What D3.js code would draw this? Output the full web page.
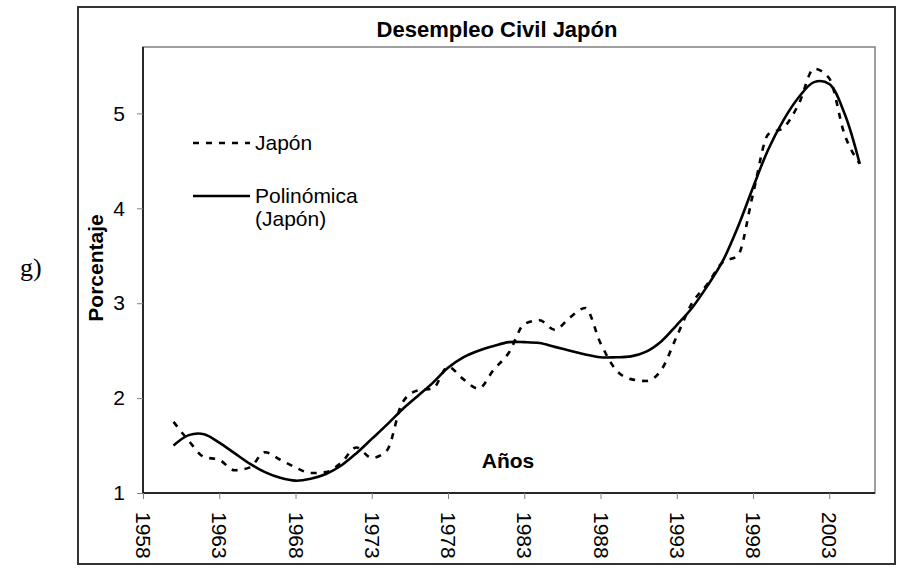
<!DOCTYPE html>
<html>
<head>
<meta charset="utf-8">
<script src="https://cdn.jsdelivr.net/npm/d3@7"></script>
<style>
  body { margin: 0; background: #fff; }
  svg { display: block; font-family: "Liberation Sans", Arial, sans-serif; }
</style>
</head>
<body>
<div id="chart"></div>
<script>
// años 1960 - 2005
var years = [1960,1961,1962,1963,1964,1965,1966,1967,1968,1969,
             1970,1971,1972,1973,1974,1975,1976,1977,1978,1979,
             1980,1981,1982,1983,1984,1985,1986,1987,1988,1989,
             1990,1991,1992,1993,1994,1995,1996,1997,1998,1999,
             2000,2001,2002,2003,2004,2005];

var japon = [1.75,1.55,1.38,1.35,1.24,1.27,1.43,1.35,1.27,1.21,
             1.22,1.32,1.48,1.37,1.45,1.95,2.08,2.10,2.33,2.20,
             2.10,2.30,2.48,2.78,2.82,2.72,2.85,2.95,2.58,2.30,
             2.20,2.18,2.30,2.65,3.00,3.20,3.43,3.50,4.15,4.78,
             4.85,5.10,5.47,5.37,4.78,4.47];

// tendencia polinómica
var polinomica = [1.50,1.61,1.62,1.53,1.42,1.31,1.22,1.16,1.13,1.15,
                  1.20,1.29,1.42,1.57,1.72,1.88,2.02,2.16,2.32,2.43,
                  2.50,2.55,2.59,2.59,2.58,2.54,2.50,2.46,2.43,2.43,
                  2.44,2.49,2.60,2.77,2.95,3.18,3.44,3.80,4.22,4.62,
                  4.93,5.17,5.33,5.31,5.00,4.47];

var xTicks = [1958,1963,1968,1973,1978,1983,1988,1993,1998,2003];
var yTicks = [1,2,3,4,5];

var width = 900, height = 569;
var plot = {left: 143, right: 875, top: 47, bottom: 493};

var svg = d3.select("#chart").append("svg")
    .attr("width", width)
    .attr("height", height);

var x = d3.scaleLinear().domain([1958, 2006]).range([plot.left, plot.right]);
var y = d3.scaleLinear().domain([1, 5.7]).range([plot.bottom, plot.top]);

// marco exterior
svg.append("rect")
    .attr("x", 78).attr("y", 7)
    .attr("width", 817).attr("height", 557)
    .style("fill", "none")
    .style("stroke", "#333")
    .style("stroke-width", 2);

// borde del área de trazado
svg.append("rect")
    .attr("x", plot.left).attr("y", plot.top)
    .attr("width", plot.right - plot.left).attr("height", plot.bottom - plot.top)
    .style("fill", "none")
    .style("stroke", "#808080")
    .style("stroke-width", 1.5);

var xAxis = d3.axisBottom(x).tickValues(xTicks).tickSize(6).tickFormat(d3.format("d"));
var yAxis = d3.axisLeft(y).tickValues(yTicks).tickSize(6).tickPadding(12).tickFormat(d3.format("d"));

var gx = svg.append("g")
    .attr("transform", "translate(0," + plot.bottom + ")")
    .call(xAxis);
gx.select(".domain").attr("d", "M" + plot.left + ",0H" + plot.right)
    .style("stroke", "#000").style("stroke-width", 1.5);
gx.selectAll(".tick line").style("stroke", "#808080");
gx.selectAll("text")
    .style("font-size", "21px")
    .style("fill", "#000")
    .style("text-anchor", "start")
    .attr("x", 0).attr("y", 0)
    .attr("dx", "0")
    .attr("dy", "0.35em")
    .attr("transform", "translate(0,19) rotate(90)");

var gy = svg.append("g")
    .attr("transform", "translate(" + plot.left + ",0)")
    .call(yAxis);
gy.select(".domain").attr("d", "M0," + plot.top + "V" + plot.bottom)
    .style("stroke", "#000").style("stroke-width", 1.5);
gy.selectAll(".tick line").style("stroke", "#808080");
gy.selectAll("text").style("font-size", "21px").style("fill", "#000");

// líneas
var serie = function(vals) {
    return years.map((yr, i) => ({year: yr, value: vals[i]}));
};

var lineaSuave = d3.line()
    .x(d => x(d.year))
    .y(d => y(d.value))
    .curve(d3.curveCatmullRom.alpha(0.5));

var lineaRecta = d3.line()
    .x(d => x(d.year))
    .y(d => y(d.value))
    .curve(d3.curveMonotoneX);

svg.append("path")
    .datum(serie(japon))
    .attr("d", lineaRecta)
    .style("fill", "none")
    .style("stroke", "#000")
    .style("stroke-width", 2.6)
    .style("stroke-dasharray", "6,7");

svg.append("path")
    .datum(serie(polinomica))
    .attr("d", lineaSuave)
    .style("fill", "none")
    .style("stroke", "#000")
    .style("stroke-width", 2.6);

// leyenda
var leyenda = svg.append("g");
leyenda.append("line")
    .attr("x1", 193).attr("x2", 250).attr("y1", 143).attr("y2", 143)
    .style("stroke", "#000").style("stroke-width", 2.6).style("stroke-dasharray", "6,7");
leyenda.append("text").attr("x", 255).attr("y", 150)
    .style("font-size", "21px").text("Japón");
leyenda.append("line")
    .attr("x1", 193).attr("x2", 250).attr("y1", 196).attr("y2", 196)
    .style("stroke", "#000").style("stroke-width", 2.6);
leyenda.append("text").attr("x", 255).attr("y", 203)
    .style("font-size", "21px").text("Polinómica");
leyenda.append("text").attr("x", 255).attr("y", 226)
    .style("font-size", "21px").text("(Japón)");

// títulos
svg.append("text")
    .attr("x", 497).attr("y", 37)
    .style("text-anchor", "middle")
    .style("font-size", "22px")
    .style("font-weight", "bold")
    .text("Desempleo Civil Japón");

svg.append("text")
    .attr("transform", "translate(103,268) rotate(-90)")
    .style("text-anchor", "middle")
    .style("font-size", "21px")
    .style("font-weight", "bold")
    .text("Porcentaje");

svg.append("text")
    .attr("x", 508).attr("y", 468)
    .style("text-anchor", "middle")
    .style("font-size", "21px")
    .style("font-weight", "bold")
    .text("Años");

svg.append("text")
    .attr("x", 20).attr("y", 276)
    .style("font-family", "'Liberation Serif', 'Times New Roman', serif")
    .style("font-size", "26px")
    .text("g)");
</script>
</body>
</html>
